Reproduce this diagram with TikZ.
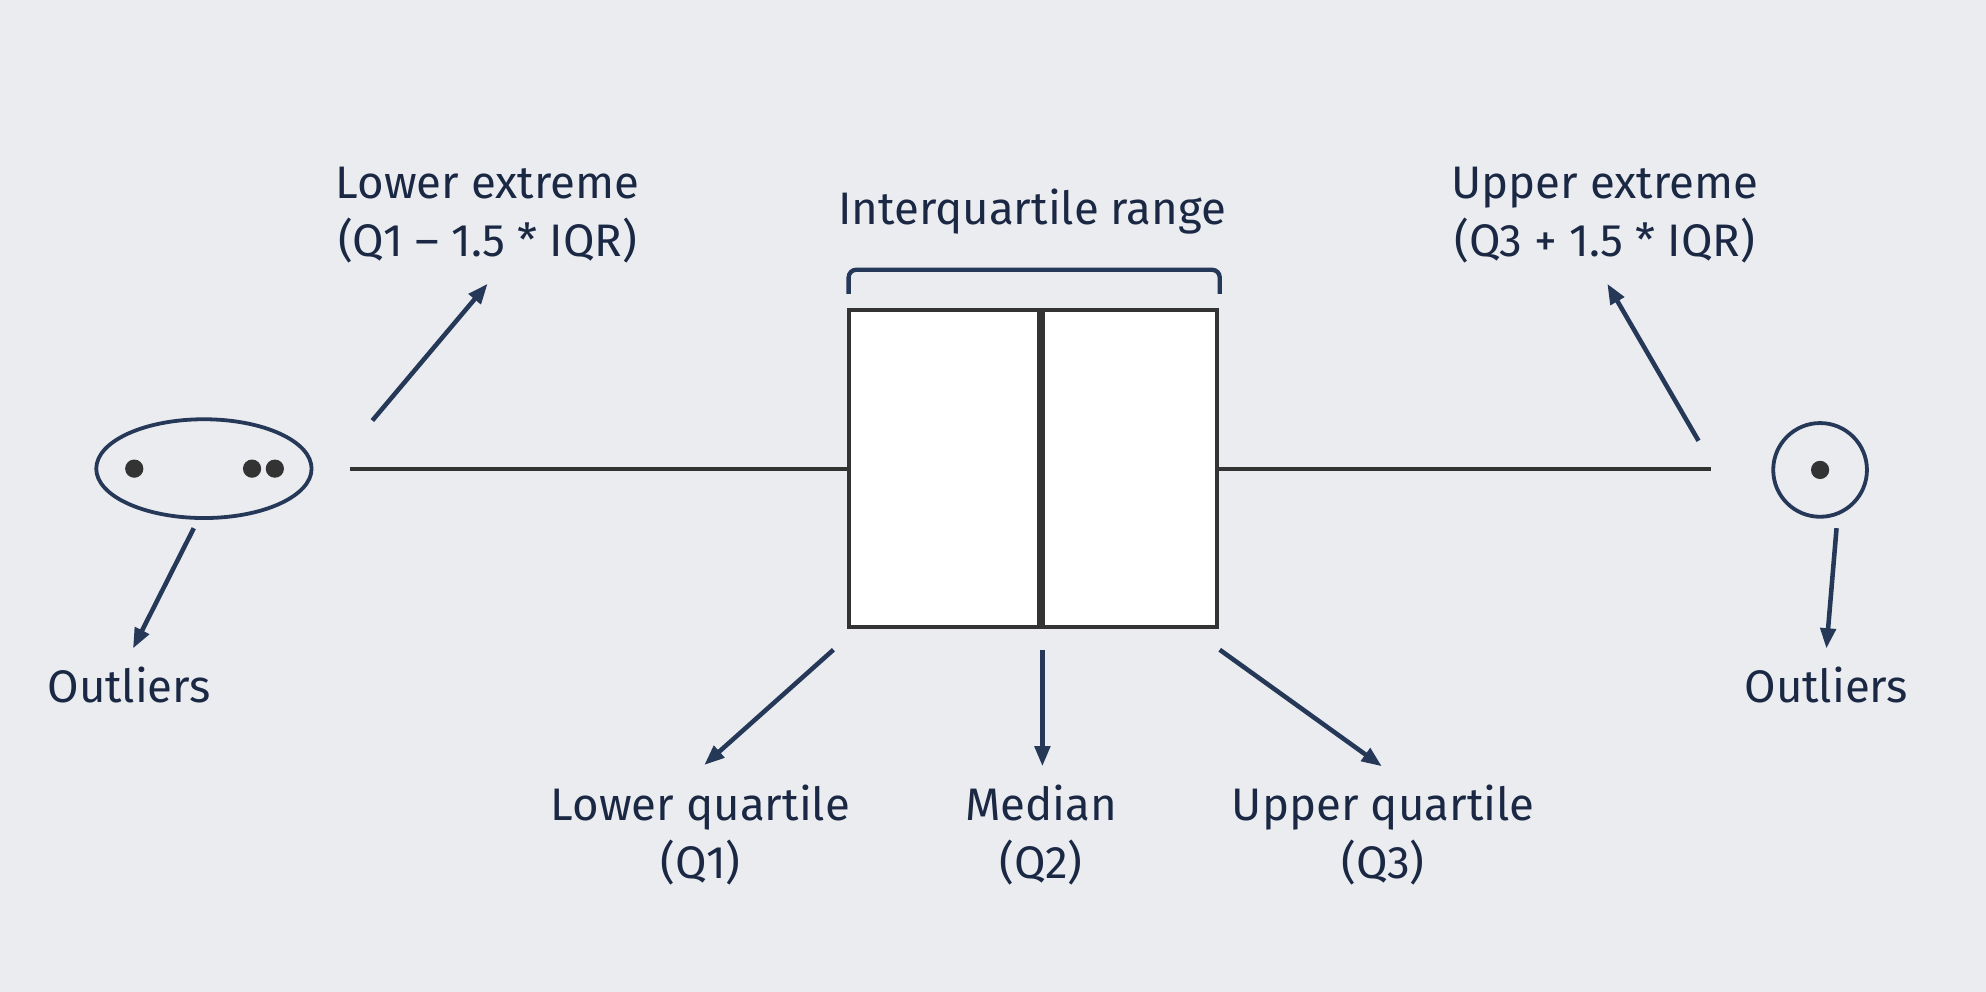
\documentclass[tikz,border=0pt]{standalone}
\usepackage{fontspec}
\setmainfont{Fira Sans}
\usetikzlibrary{arrows.meta,shapes.geometric}
\definecolor{bg}{HTML}{EAECF0}
\definecolor{txt}{HTML}{1B2844}
\definecolor{arr}{HTML}{263858}
\definecolor{ln}{HTML}{333333}
\begin{document}
\begin{tikzpicture}[x=0.5pt,y=-0.5pt,
  lbl/.style={text=txt,font=\fontsize{18}{23}\selectfont,align=center,inner sep=0pt},
  pointer/.style={draw=arr,line width=1.8pt,-{Triangle[length=8pt,width=6pt]}},
  whisk/.style={draw=ln,line width=1.5pt},
  dotmark/.style={circle,fill=ln,draw=none,inner sep=0pt,minimum size=7.2pt},
  ring/.style={draw=arr,line width=1.5pt,inner sep=0pt}
]
\fill[bg] (0,0) rectangle (1568,783);
\useasboundingbox (0,0) rectangle (1568,783);

% box
\node[draw=ln,line width=1.5pt,fill=white,minimum width=145.5pt,minimum height=125pt,inner sep=0pt] (box) at (815.5,370) {};
\coordinate (medtop) at (822,245);
\coordinate (medbot) at (822,495);
\draw[draw=ln,line width=3pt] (medtop) -- (medbot);

% whiskers
\coordinate (wl) at (276,370);
\coordinate (wr) at (1351,370);
\draw[whisk] (wl) -- (box.west);
\draw[whisk] (box.east) -- (wr);

% bracket
\coordinate (bl) at (670,232);
\coordinate (br) at (963,232);
\draw[draw=arr,line width=1.7pt,rounded corners=3pt] (bl) -- (670,213) -- (963,213) -- (br);
\node[lbl] (iqr) at (815,167) {Interquartile range};

% outliers left
\node[ring,ellipse,minimum width=85pt,minimum height=39pt] (ol) at (161,370) {};
\node[dotmark] (d1) at (106,370) {};
\node[dotmark] (d2) at (199,370) {};
\node[dotmark] (d3) at (217,370) {};
\node[lbl] (oltxt) at (102,541) {Outliers};
\coordinate (olA) at (153,417);
\coordinate (olB) at (105,512);
\draw[pointer] (olA) -- (olB);

% outliers right
\node[ring,circle,minimum size=37pt] (or) at (1437,371) {};
\node[dotmark] (d4) at (1437,371) {};
\node[lbl] (ortxt) at (1442,541) {Outliers};
\coordinate (orA) at (1450,417);
\coordinate (orB) at (1442,512);
\draw[pointer] (orA) -- (orB);

% lower extreme
\node[lbl] (lext) at (385,170) {Lower extreme\\(Q1 -- 1.5 * IQR)};
\coordinate (leA) at (294,332);
\coordinate (leB) at (385,224);
\draw[pointer] (leA) -- (leB);

% upper extreme
\node[lbl] (uext) at (1267,170) {Upper extreme\\(Q3 + 1.5 * IQR)};
\coordinate (ueA) at (1341,348);
\coordinate (ueB) at (1269,224);
\draw[pointer] (ueA) -- (ueB);

% quartile labels
\node[lbl] (lq) at (553,659) {Lower quartile\\(Q1)};
\node[lbl] (md) at (822,659) {Median\\(Q2)};
\node[lbl] (uq) at (1092,659) {Upper quartile\\(Q3)};
\coordinate (lqA) at (658,513);
\coordinate (lqB) at (556,604);
\coordinate (mdA) at (823,513);
\coordinate (mdB) at (823,605);
\coordinate (uqA) at (963,513);
\coordinate (uqB) at (1091,605);
\draw[pointer] (lqA) -- (lqB);
\draw[pointer] (mdA) -- (mdB);
\draw[pointer] (uqA) -- (uqB);
\end{tikzpicture}
\end{document}
